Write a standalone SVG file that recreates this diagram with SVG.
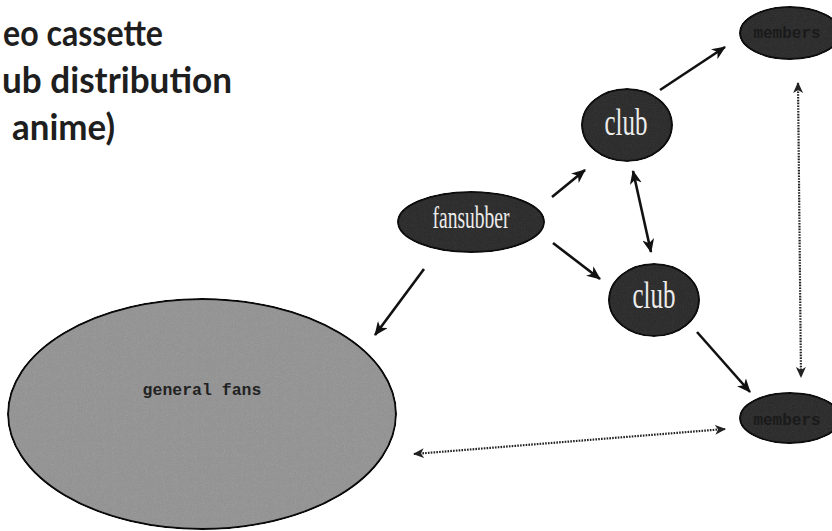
<svg xmlns="http://www.w3.org/2000/svg" width="832" height="531" viewBox="0 0 832 531">
<style>
.title{font-family:Lato,"Liberation Sans",sans-serif;font-weight:bold;font-size:36px;fill:#1e1e1e}
.dark{fill:#363636;stroke:#151515;stroke-width:2;filter:url(#grain)}
.light{fill:#9c9c9c;stroke:#111;stroke-width:2;filter:url(#grain)}
.lbl{font-family:"Liberation Serif",serif;fill:#ececec;text-anchor:middle}
.mono{font-family:"Liberation Mono",monospace;font-weight:bold;text-anchor:middle}
.solid{stroke:#111;stroke-width:2.6;fill:none}
.dot{stroke:#222;stroke-width:2.2;stroke-dasharray:1.6 1.2;fill:none}
</style>
<defs>
<filter id="grain" x="-2%" y="-2%" width="104%" height="104%" color-interpolation-filters="sRGB">
<feTurbulence type="fractalNoise" baseFrequency="0.9" numOctaves="2" seed="3" result="t"/>
<feColorMatrix in="t" type="saturate" values="0" result="g"/>
<feComposite in="g" in2="SourceGraphic" operator="arithmetic" k1="0" k2="0.14" k3="1" k4="-0.07" result="c"/>
<feComposite in="c" in2="SourceGraphic" operator="in"/>
</filter>
<marker id="ah" markerUnits="userSpaceOnUse" markerWidth="14" markerHeight="12" refX="13" refY="6" orient="auto-start-reverse" viewBox="0 0 14 12">
<path d="M0,0 L14,6 L0,12 L4,6 z" fill="#111"/>
</marker>
<marker id="dh" markerUnits="userSpaceOnUse" markerWidth="11" markerHeight="10" refX="10" refY="5" orient="auto-start-reverse" viewBox="0 0 11 10">
<path d="M0,0 L11,5 L0,10 L3,5 z" fill="#222"/>
</marker>
</defs>
<rect width="832" height="531" fill="#fff"/>
<g id="title">
<text class="title" x="3" y="46" textLength="160" lengthAdjust="spacingAndGlyphs">eo cassette</text>
<text class="title" x="2" y="93" textLength="230" lengthAdjust="spacingAndGlyphs">ub distribution</text>
<text class="title" x="12" y="140" textLength="103" lengthAdjust="spacingAndGlyphs">anime)</text>
</g>
<g id="general-fans">
<ellipse class="light" cx="202" cy="414" rx="194" ry="115"/>
<text class="mono" x="202" y="395" font-size="16.5" fill="#222">general fans</text>
</g>
<g id="fansubber">
<ellipse class="dark" cx="471" cy="222" rx="73" ry="30"/>
<text class="lbl" x="471" y="228" font-size="32" textLength="77" lengthAdjust="spacingAndGlyphs">fansubber</text>
</g>
<g id="club-top">
<ellipse class="dark" cx="627" cy="125" rx="45" ry="36"/>
<text class="lbl" x="626" y="135" font-size="38" textLength="43" lengthAdjust="spacingAndGlyphs">club</text>
</g>
<g id="club-bottom">
<ellipse class="dark" cx="654" cy="300" rx="45" ry="36"/>
<text class="lbl" x="654" y="308" font-size="38" textLength="43" lengthAdjust="spacingAndGlyphs">club</text>
</g>
<g id="members-top">
<ellipse class="dark" cx="790" cy="33" rx="50" ry="26"/>
<text class="mono" x="787" y="38" font-size="16" fill="#1a1a1a">members</text>
</g>
<g id="members-bottom">
<ellipse class="dark" cx="790" cy="418" rx="50" ry="25"/>
<text class="mono" x="787" y="425" font-size="16" fill="#1a1a1a">members</text>
</g>
<g id="connectors">
<line class="solid" x1="660" y1="90" x2="725" y2="47" marker-end="url(#ah)"/>
<line class="solid" x1="552" y1="197" x2="585" y2="170" marker-end="url(#ah)"/>
<line class="solid" x1="633" y1="171" x2="651" y2="252" marker-start="url(#ah)" marker-end="url(#ah)"/>
<line class="solid" x1="553" y1="243" x2="600" y2="279" marker-end="url(#ah)"/>
<line class="solid" x1="424" y1="269" x2="375" y2="335" marker-end="url(#ah)"/>
<line class="solid" x1="697" y1="332" x2="750" y2="392" marker-end="url(#ah)"/>
<line class="dot" x1="798" y1="83" x2="801" y2="377" marker-start="url(#dh)" marker-end="url(#dh)"/>
<line class="dot" x1="414" y1="454" x2="725" y2="429" marker-start="url(#dh)" marker-end="url(#dh)"/>
</g>
</svg>
